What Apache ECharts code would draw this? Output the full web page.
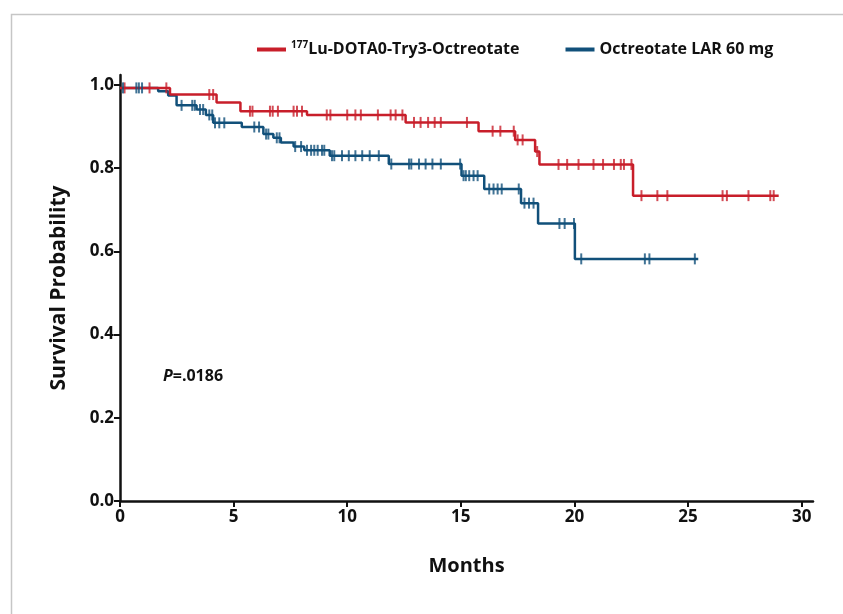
<!DOCTYPE html>
<html>
<head>
    <meta charset="utf-8">
</head>
<body style="margin: 0; background: #fff">
    <div id="container" style="width: 843px; height: 614px"></div>
    <script type="text/javascript" src="https://cdn.jsdelivr.net/npm/echarts@6/dist/echarts.min.js"></script>
    <script type="text/javascript">
        // 177Lu-DOTA0-Try3-Octreotate: step times (months) and survival after each step
        var luTimes = [0, 2.2, 4.25, 5.3, 8.23, 12.57, 15.78, 17.39, 18.27, 18.46, 22.58];
        var luSurv = [0.993, 0.977, 0.958, 0.937, 0.928, 0.910, 0.889, 0.868, 0.840, 0.809, 0.734];
        var luEnd = 28.99;
        var luCensor = [0.2, 1.3, 2.04, 3.93, 4.1, 5.72, 5.83, 6.6, 6.72, 6.95, 7.64, 7.79, 8.01,
            9.1, 9.26, 10.0, 10.36, 10.6, 11.35, 11.91, 12.13, 12.43, 12.94, 13.23, 13.56, 13.85,
            14.12, 15.27, 16.4, 16.74, 17.33, 17.5, 17.72, 18.36, 19.3, 19.68, 20.18, 20.84, 21.26,
            21.74, 22.04, 22.18, 22.51, 22.95, 23.65, 24.09, 26.52, 26.71, 27.66, 28.62, 28.77];

        // Octreotate LAR 60 mg
        var larTimes = [0, 1.68, 2.12, 2.49, 3.37, 3.78, 4.1, 5.36, 6.31, 6.75, 7.08, 7.64, 8.11,
            9.23, 11.83, 15.03, 16.03, 17.65, 18.4, 20.02];
        var larSurv = [0.993, 0.985, 0.975, 0.951, 0.941, 0.928, 0.909, 0.899, 0.882, 0.873, 0.862,
            0.852, 0.843, 0.830, 0.810, 0.782, 0.750, 0.716, 0.667, 0.582];
        var larEnd = 25.45;
        var larCensor = [0.13, 0.72, 0.83, 0.97, 2.71, 3.18, 3.29, 3.52, 3.66, 3.93, 4.06, 4.18,
            4.37, 4.59, 5.91, 6.12, 6.43, 6.53, 6.9, 7.02, 7.71, 7.97, 8.23, 8.41, 8.55, 8.7, 8.89,
            8.99, 9.33, 9.43, 9.77, 10.07, 10.36, 10.66, 10.99, 11.39, 11.94, 12.72, 12.82, 13.16,
            13.45, 13.75, 14.12, 14.97, 15.12, 15.22, 15.37, 15.56, 15.74, 16.25, 16.44, 16.62,
            16.8, 17.55, 17.8, 18.0, 18.2, 19.34, 19.57, 19.98, 20.3, 23.1, 23.3, 25.3];

        var xTicks = [0, 5, 10, 15, 20, 25, 30];
        var yTicks = [0, 0.2, 0.4, 0.6, 0.8, 1.0];
        var seriesNames = ['177Lu-DOTA0-Try3-Octreotate', 'Octreotate LAR 60 mg'];
        var pValue = '.0186';

        var RED = '#c81e2a';
        var BLUE = '#11507a';
        var FONT = '"Open Sans", "Liberation Sans", sans-serif';

        function stepLine(times, surv, end) {
            var pts = times.map(function (t, i) { return [t, surv[i]]; });
            pts.push([end, surv[surv.length - 1]]);
            return pts;
        }

        function censorPoints(times, surv, cens) {
            return cens.map(function (c) {
                var s = surv[0];
                for (var i = 0; i < times.length; i++) {
                    if (times[i] <= c) s = surv[i];
                }
                return [c, s];
            });
        }

        var dom = document.getElementById('container');
        var myChart = echarts.init(dom, null, { renderer: 'canvas' });

        var option = {
            animation: false,
            backgroundColor: '#fff',
            grid: {
                left: 120,
                right: 30,
                top: 75,
                bottom: 113
            },
            legend: {
                data: seriesNames,
                left: 252,
                top: 35,
                itemGap: 46,
                itemWidth: 29,
                itemHeight: 4,
                icon: 'rect',
                textStyle: {
                    color: '#111',
                    fontFamily: FONT,
                    fontWeight: 'bold',
                    fontSize: 16,
                    rich: {
                        sup: { fontSize: 10, fontWeight: 'bold', fontFamily: FONT, color: '#111', verticalAlign: 'top', lineHeight: 10 },
                        m: { fontSize: 16, fontWeight: 'bold', fontFamily: FONT, color: '#111', lineHeight: 19 }
                    }
                },
                formatter: function (name) {
                    if (name.indexOf('177') === 0) return '{sup|177}{m|' + name.slice(3) + '}';
                    return '{m|' + name + '}';
                }
            },
            xAxis: {
                type: 'value',
                min: 0,
                max: 30.5,
                name: 'Months',
                nameLocation: 'middle',
                nameGap: 55,
                nameTextStyle: { color: '#111', fontFamily: FONT, fontWeight: 'bold', fontSize: 20 },
                splitLine: { show: false },
                axisLine: { onZero: false, lineStyle: { color: '#111', width: 2.5 } },
                axisTick: { length: 6, lineStyle: { color: '#111', width: 2 }, customValues: xTicks },
                axisLabel: { color: '#111', fontFamily: FONT, fontWeight: 'bold', fontSize: 17, margin: 8, customValues: xTicks }
            },
            yAxis: {
                type: 'value',
                min: 0,
                max: 1.024,
                name: 'Survival Probability',
                nameLocation: 'middle',
                nameGap: 50,
                nameTextStyle: { color: '#111', fontFamily: FONT, fontWeight: 'bold', fontSize: 21 },
                splitLine: { show: false },
                axisLine: { onZero: false, lineStyle: { color: '#111', width: 2.5 } },
                axisTick: { length: 6, lineStyle: { color: '#111', width: 2 }, customValues: yTicks },
                axisLabel: {
                    color: '#111', fontFamily: FONT, fontWeight: 'bold', fontSize: 17, margin: 6,
                    customValues: yTicks,
                    formatter: function (v) { return v.toFixed(1); }
                }
            },
            graphic: [{
                type: 'rect',
                left: 9,
                top: 12,
                silent: true,
                z: -10,
                shape: { width: 900, height: 700 },
                style: { fill: 'none', stroke: '#c6c6c6', lineWidth: 1.5 }
            }, {
                type: 'text',
                left: 163,
                top: 368,
                silent: true,
                style: {
                    text: '{i|P}{n|=' + pValue + '}',
                    rich: {
                        i: { fontFamily: FONT, fontStyle: 'italic', fontWeight: 'bold', fontSize: 16, fill: '#111' },
                        n: { fontFamily: FONT, fontWeight: 'bold', fontSize: 16, fill: '#111' }
                    }
                }
            }],
            series: [{
                name: seriesNames[0],
                type: 'line',
                step: 'end',
                showSymbol: false,
                color: RED,
                lineStyle: { color: RED, width: 2.5 },
                data: stepLine(luTimes, luSurv, luEnd),
                z: 3
            }, {
                name: seriesNames[1],
                type: 'line',
                step: 'end',
                showSymbol: false,
                color: BLUE,
                lineStyle: { color: BLUE, width: 2.5 },
                data: stepLine(larTimes, larSurv, larEnd),
                z: 2
            }, {
                name: 'luCensor',
                type: 'scatter',
                symbol: 'rect',
                symbolSize: [2, 11],
                itemStyle: { color: RED },
                data: censorPoints(luTimes, luSurv, luCensor),
                z: 4
            }, {
                name: 'larCensor',
                type: 'scatter',
                symbol: 'rect',
                symbolSize: [2, 11],
                itemStyle: { color: BLUE },
                data: censorPoints(larTimes, larSurv, larCensor),
                z: 4
            }]
        };

        myChart.setOption(option, true);
    </script>
</body>
</html>
